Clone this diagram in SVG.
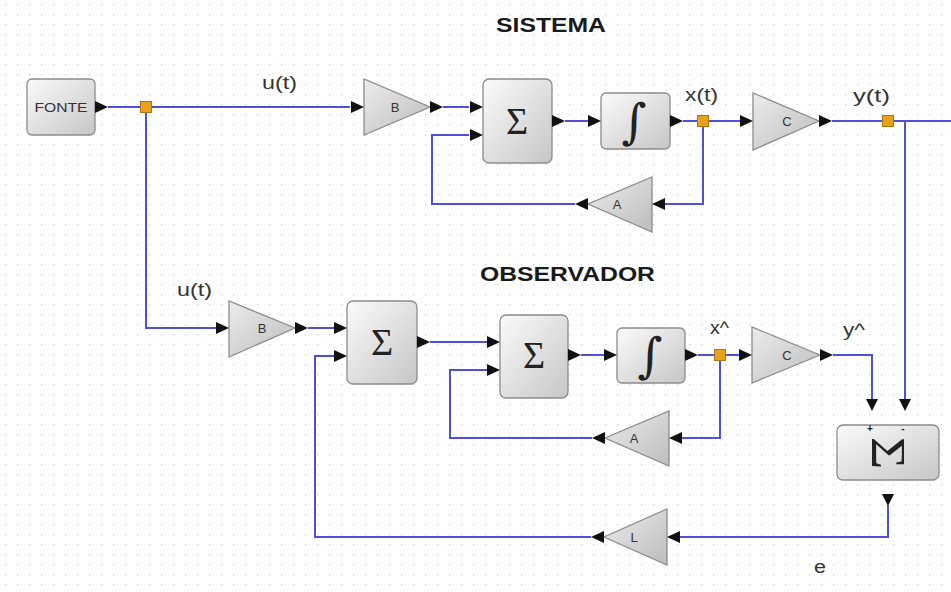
<svg xmlns="http://www.w3.org/2000/svg" width="951" height="592" viewBox="0 0 951 592">
<defs>
<pattern id="grid" width="12" height="10" patternUnits="userSpaceOnUse">
<rect x="5" y="4" width="1.4" height="1.4" fill="#d6d6d6"/>
</pattern>
<linearGradient id="gBlk" x1="0" y1="0" x2="1" y2="1">
<stop offset="0" stop-color="#fbfbfb"/>
<stop offset="1" stop-color="#c6c6c6"/>
</linearGradient>
<linearGradient id="gTri" x1="0" y1="0" x2="1" y2="1">
<stop offset="0" stop-color="#ececec"/>
<stop offset="1" stop-color="#bdbdbd"/>
</linearGradient>
<path id="pR" d="M0,-6 L13,0 L0,6 Z"/>
<path id="pL" d="M13,-6 L0,0 L13,6 Z"/>
<path id="pD" d="M-6,0 L6,0 L0,12 Z"/>
<rect id="sp" x="-5.5" y="-5.5" width="11" height="11"/>
</defs>
<style>
.blk{fill:url(#gBlk);stroke:#8c8c8c;stroke-width:1.3}
.tri{fill:url(#gTri);stroke:#8c8c8c;stroke-width:1.3}
.port{fill:#111}
.split{fill:#e8a11c;stroke:#b07410;stroke-width:1}
.lnk{fill:none;stroke:#4f4fd9;stroke-width:2}
.lbl{font-family:"Liberation Sans",Arial,sans-serif;font-size:18px;fill:#333}
.k{font-family:"Liberation Sans",Arial,sans-serif;font-size:13px;fill:#333;text-anchor:middle}
.pm{font-family:"Liberation Sans",Arial,sans-serif;font-size:10px;font-weight:bold;fill:#222;text-anchor:middle}
.ttl{font-family:"Liberation Sans",Arial,sans-serif;font-size:20px;font-weight:bold;fill:#1a1a1a}
.sig{font-family:"Liberation Serif","Times New Roman",serif;font-size:38px;fill:#222;text-anchor:middle}
.sigr{font-family:"Liberation Serif","Times New Roman",serif;font-size:40px;fill:#222;text-anchor:middle}
.int{font-family:"DejaVu Serif",serif;font-style:italic;font-size:48px;fill:#222;text-anchor:middle}
</style>
<rect width="951" height="592" fill="#ffffff"/>
<rect width="951" height="592" fill="url(#grid)"/>

<text class="ttl" x="496" y="32" textLength="110" lengthAdjust="spacingAndGlyphs">SISTEMA</text>
<text class="ttl" x="480" y="281" textLength="175" lengthAdjust="spacingAndGlyphs">OBSERVADOR</text>

<g id="connectors">
<path class="lnk" d="M108,107 H141"/>
<path class="lnk" d="M151,107 H350"/>
<path class="lnk" d="M146,112 V328 H216"/>
<path class="lnk" d="M443,107 H469"/>
<path class="lnk" d="M565,121 H588"/>
<path class="lnk" d="M683,121 H698"/>
<path class="lnk" d="M708,121 H740"/>
<path class="lnk" d="M703,126 V204 H665"/>
<path class="lnk" d="M575,204 H432 V135 H469"/>
<path class="lnk" d="M832,121 H883"/>
<path class="lnk" d="M893,121 H951"/>
<path class="lnk" d="M905,121 V399"/>
<path class="lnk" d="M308,328 H334"/>
<path class="lnk" d="M430,342 H487"/>
<path class="lnk" d="M581,355 H604"/>
<path class="lnk" d="M698,355 H715"/>
<path class="lnk" d="M725,355 H739"/>
<path class="lnk" d="M720,360 V438 H682"/>
<path class="lnk" d="M592,438 H450 V370 H487"/>
<path class="lnk" d="M833,355 H872 V399"/>
<path class="lnk" d="M888,505 V537 H680"/>
<path class="lnk" d="M591,537 H315 V356 H334"/>
</g>

<g id="labels">
<text class="lbl" x="262" y="89" textLength="35" lengthAdjust="spacingAndGlyphs">u(t)</text>
<text class="lbl" x="177" y="296" textLength="35" lengthAdjust="spacingAndGlyphs">u(t)</text>
<text class="lbl" x="685" y="101" textLength="33" lengthAdjust="spacingAndGlyphs">x(t)</text>
<text class="lbl" x="853" y="102" textLength="37" lengthAdjust="spacingAndGlyphs">y(t)</text>
<text class="lbl" x="710" y="334" textLength="19" lengthAdjust="spacingAndGlyphs">x^</text>
<text class="lbl" x="843" y="336" textLength="22" lengthAdjust="spacingAndGlyphs">y^</text>
<text class="lbl" x="814" y="573" textLength="12" lengthAdjust="spacingAndGlyphs">e</text>
</g>

<g id="fonte">
<rect class="blk" x="27" y="79" width="68" height="56" rx="5"/>
<text class="k" x="61" y="112" textLength="53" lengthAdjust="spacingAndGlyphs">FONTE</text>
<use href="#pR" class="port" x="95" y="107"/>
</g>
<g id="split1"><use href="#sp" class="split" x="146" y="107"/></g>

<g id="gainB1">
<polygon class="tri" points="364,79 364,135 430,107"/>
<text class="k" x="395" y="112">B</text>
<use href="#pR" class="port" x="351" y="107"/>
<use href="#pR" class="port" x="430" y="107"/>
</g>
<g id="sum1">
<rect class="blk" x="483" y="79" width="69" height="84" rx="6"/>
<text class="sig" x="517" y="134">Σ</text>
<use href="#pR" class="port" x="470" y="107"/>
<use href="#pR" class="port" x="470" y="135"/>
<use href="#pR" class="port" x="552" y="121"/>
</g>
<g id="int1">
<rect class="blk" x="601" y="93" width="69" height="56" rx="5"/>
<text class="int" x="634" y="138">∫</text>
<use href="#pR" class="port" x="588" y="121"/>
<use href="#pR" class="port" x="670" y="121"/>
</g>
<g id="split2"><use href="#sp" class="split" x="703" y="121"/></g>
<g id="gainA1">
<polygon class="tri" points="652,177 652,232 588,204"/>
<text class="k" x="617" y="209">A</text>
<use href="#pL" class="port" x="652" y="204"/>
<use href="#pL" class="port" x="575" y="204"/>
</g>
<g id="gainC1">
<polygon class="tri" points="753,93 753,150 819,121"/>
<text class="k" x="787" y="126">C</text>
<use href="#pR" class="port" x="740" y="121"/>
<use href="#pR" class="port" x="819" y="121"/>
</g>
<g id="split3"><use href="#sp" class="split" x="888" y="121"/></g>

<g id="gainB2">
<polygon class="tri" points="229,301 229,357 295,328"/>
<text class="k" x="262" y="333">B</text>
<use href="#pR" class="port" x="216" y="328"/>
<use href="#pR" class="port" x="295" y="328"/>
</g>
<g id="sumObs1">
<rect class="blk" x="347" y="301" width="70" height="83" rx="6"/>
<text class="sig" x="382" y="355">Σ</text>
<use href="#pR" class="port" x="334" y="328"/>
<use href="#pR" class="port" x="334" y="356"/>
<use href="#pR" class="port" x="417" y="342"/>
</g>
<g id="sumObs2">
<rect class="blk" x="500" y="315" width="68" height="83" rx="6"/>
<text class="sig" x="534" y="368">Σ</text>
<use href="#pR" class="port" x="487" y="342"/>
<use href="#pR" class="port" x="487" y="370"/>
<use href="#pR" class="port" x="568" y="355"/>
</g>
<g id="int2">
<rect class="blk" x="617" y="328" width="68" height="55" rx="5"/>
<text class="int" x="650" y="372">∫</text>
<use href="#pR" class="port" x="604" y="355"/>
<use href="#pR" class="port" x="685" y="355"/>
</g>
<g id="split4"><use href="#sp" class="split" x="720" y="355"/></g>
<g id="gainA2">
<polygon class="tri" points="669,411 669,466 605,438"/>
<text class="k" x="634" y="443">A</text>
<use href="#pL" class="port" x="669" y="438"/>
<use href="#pL" class="port" x="592" y="438"/>
</g>
<g id="gainC2">
<polygon class="tri" points="752,327 752,383 820,355"/>
<text class="k" x="787" y="360">C</text>
<use href="#pR" class="port" x="739" y="355"/>
<use href="#pR" class="port" x="820" y="355"/>
</g>
<g id="summation">
<rect class="blk" x="837" y="425" width="102" height="55" rx="6"/>
<text class="sigr" transform="translate(888,453) scale(1.2,1.4) rotate(90)" y="13">Σ</text>
<text class="pm" x="870" y="432">+</text>
<text class="pm" x="903" y="432">-</text>
<use href="#pD" class="port" x="872" y="399"/>
<use href="#pD" class="port" x="905" y="399"/>
<use href="#pD" class="port" x="888" y="494"/>
</g>
<g id="gainL">
<polygon class="tri" points="667,509 667,565 604,537"/>
<text class="k" x="634" y="542">L</text>
<use href="#pL" class="port" x="667" y="537"/>
<use href="#pL" class="port" x="591" y="537"/>
</g>
</svg>
